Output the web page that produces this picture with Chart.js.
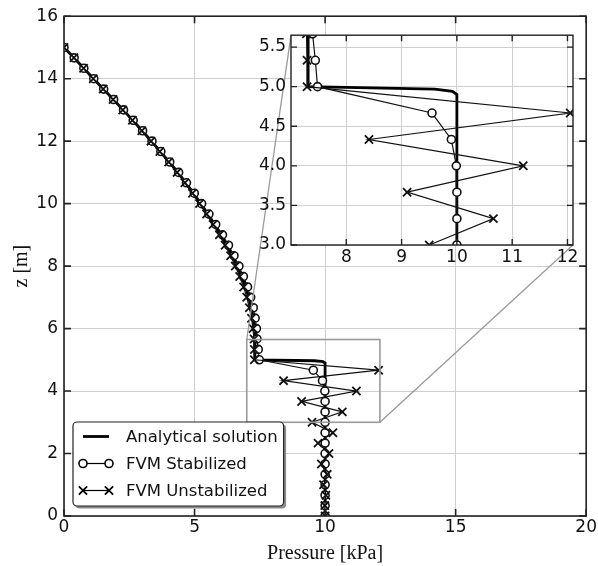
<!DOCTYPE html>
<html>
<head>
<meta charset="utf-8">
<script src="https://cdn.jsdelivr.net/npm/chart.js@4"></script>
<style>
  body { margin: 0; background: #fff; }
  #wrap { position: relative; width: 598px; height: 566px; }
  #main { position: absolute; left: 0; top: 0; }
  #inset { position: absolute; left: 250px; top: 20px; }
</style>
</head>
<body>
<div id="wrap">
  <canvas id="main" width="598" height="566"></canvas>
  <canvas id="inset" width="340" height="250"></canvas>
</div>
<script>
// nodes of the FVM grid (z in m)
const zNodes = [15, 14.667, 14.333, 14, 13.667, 13.333, 13, 12.667, 12.333, 12,
  11.667, 11.333, 11, 10.667, 10.333, 10, 9.667, 9.333, 9, 8.667,
  8.333, 8, 7.667, 7.333, 7, 6.667, 6.333, 6, 5.667, 5.333,
  5, 4.667, 4.333, 4, 3.667, 3.333, 3, 2.667, 2.333, 2,
  1.667, 1.333, 1, 0.667, 0.333, 0];

const pStabilized = [0, 0.39, 0.76, 1.14, 1.52, 1.90, 2.28, 2.65, 3.01, 3.37,
  3.71, 4.05, 4.39, 4.69, 4.99, 5.27, 5.55, 5.81, 6.07, 6.30,
  6.51, 6.70, 6.87, 7.03, 7.15, 7.25, 7.32, 7.37, 7.39, 7.44,
  7.48, 9.55, 9.90, 9.99, 10.0, 10.0, 10.0, 10.0, 10.0, 10.0,
  10.0, 10.0, 10.0, 10.0, 10.0, 10.0];

const pUnstabilized = [0, 0.38, 0.75, 1.12, 1.50, 1.88, 2.25, 2.62, 2.98, 3.33,
  3.67, 4.01, 4.33, 4.63, 4.92, 5.19, 5.46, 5.71, 5.95, 6.17,
  6.38, 6.56, 6.73, 6.88, 7.00, 7.10, 7.18, 7.24, 7.28, 7.29,
  7.29, 12.05, 8.41, 11.2, 9.10, 10.66, 9.50, 10.30, 9.73, 10.15,
  9.86, 10.08, 9.94, 10.03, 9.99, 10.0];

const zAnalytical = [15, 14.667, 14.333, 14, 13.667, 13.333, 13, 12.667, 12.333, 12,
  11.667, 11.333, 11, 10.667, 10.333, 10, 9.667, 9.333, 9, 8.667,
  8.333, 8, 7.667, 7.333, 7, 6.667, 6.333, 6, 5.667, 5.333,
  5, 4.97, 4.94, 4.9, 0];
const pAnalytical = [0, 0.385, 0.755, 1.13, 1.51, 1.89, 2.265, 2.635, 2.995, 3.35,
  3.69, 4.03, 4.36, 4.66, 4.955, 5.23, 5.50, 5.76, 6.01, 6.235,
  6.445, 6.63, 6.80, 6.955, 7.075, 7.175, 7.25, 7.29, 7.31, 7.31,
  7.31, 9.60, 9.92, 10.0, 10.0];

const seriesNames = ['Analytical solution', 'FVM Stabilized', 'FVM Unstabilized'];

const xTicks = [0, 5, 10, 15, 20];
const yTicks = [0, 2, 4, 6, 8, 10, 12, 14, 16];
const insetXTicks = [8, 9, 10, 11, 12];
const insetYTicks = [3.0, 3.5, 4.0, 4.5, 5.0, 5.5];
const insetXRange = [7.0, 12.1];
const insetYRange = [3.0, 5.65];

Chart.defaults.font.family = 'DejaVu Sans';
Chart.defaults.color = '#111';

function pts(ps, zs) {
    return ps.map((p, i) => ({ x: p, y: zs[i] }));
}

function makeDatasets() {
    return [
        { label: seriesNames[0], data: pts(pAnalytical, zAnalytical), showLine: true,
          borderColor: '#000', borderWidth: 2.8, pointRadius: 0, order: 3 },
        { label: seriesNames[1], data: pts(pStabilized, zNodes), showLine: true,
          borderColor: '#111', borderWidth: 1.2, pointStyle: 'circle', pointRadius: 4,
          pointBorderWidth: 1.6, pointBackgroundColor: '#fff', pointBorderColor: '#111', order: 2 },
        { label: seriesNames[2], data: pts(pUnstabilized, zNodes), showLine: true,
          borderColor: '#111', borderWidth: 1.2, pointStyle: 'crossRot', pointRadius: 5.8,
          pointBorderWidth: 1.8, pointBorderColor: '#111', order: 1 }
    ];
}

// white plot background (used by the inset to hide the main grid)
const areaBg = {
    id: 'areaBg',
    beforeDraw(chart) {
        const a = chart.chartArea;
        chart.ctx.save();
        chart.ctx.fillStyle = '#fff';
        chart.ctx.fillRect(a.left, a.top, a.right - a.left, a.bottom - a.top);
        chart.ctx.restore();
    }
};

// box round the axes and inward ticks on all sides
const frame = {
    id: 'frame',
    afterDraw(chart, args, opts) {
        const { ctx, chartArea: a, scales: { x, y } } = chart;
        ctx.save();
        ctx.strokeStyle = opts.color;
        ctx.lineWidth = opts.width;
        ctx.beginPath();
        x.ticks.forEach(t => {
            const px = x.getPixelForValue(t.value);
            ctx.moveTo(px, a.bottom); ctx.lineTo(px, a.bottom - opts.tick);
            ctx.moveTo(px, a.top); ctx.lineTo(px, a.top + opts.tick);
        });
        y.ticks.forEach(t => {
            const py = y.getPixelForValue(t.value);
            ctx.moveTo(a.left, py); ctx.lineTo(a.left + opts.tick, py);
            ctx.moveTo(a.right, py); ctx.lineTo(a.right - opts.tick, py);
        });
        ctx.stroke();
        ctx.strokeRect(a.left, a.top, a.right - a.left, a.bottom - a.top);
        ctx.restore();
    }
};

function roundedPath(ctx, x, y, w, h, r) {
    ctx.beginPath();
    ctx.moveTo(x + r, y);
    ctx.lineTo(x + w - r, y);
    ctx.arcTo(x + w, y, x + w, y + r, r);
    ctx.lineTo(x + w, y + h - r);
    ctx.arcTo(x + w, y + h, x + w - r, y + h, r);
    ctx.lineTo(x + r, y + h);
    ctx.arcTo(x, y + h, x, y + h - r, r);
    ctx.lineTo(x, y + r);
    ctx.arcTo(x, y, x + r, y, r);
    ctx.closePath();
}

function marker(ctx, style, r, x, y) {
    if (style === 'circle') {
        ctx.beginPath();
        ctx.arc(x, y, r, 0, Math.PI * 2);
        ctx.fill();
        ctx.stroke();
    } else if (style === 'crossRot') {
        const d = r * 0.7071;
        ctx.beginPath();
        ctx.moveTo(x - d, y - d); ctx.lineTo(x + d, y + d);
        ctx.moveTo(x - d, y + d); ctx.lineTo(x + d, y - d);
        ctx.stroke();
    }
}

// zoom box, connector lines and the legend box in the lower left
const mainExtras = {
    id: 'mainExtras',
    afterDraw(chart) {
        const { ctx, chartArea: a, scales: { x, y } } = chart;
        ctx.save();

        // zoom rectangle
        const rx0 = x.getPixelForValue(insetXRange[0]);
        const rx1 = x.getPixelForValue(insetXRange[1]);
        const ry0 = y.getPixelForValue(insetYRange[1]);
        const ry1 = y.getPixelForValue(insetYRange[0]);
        ctx.strokeStyle = '#9a9a9a';
        ctx.lineWidth = 1.6;
        ctx.strokeRect(rx0, ry0, rx1 - rx0, ry1 - ry0);

        // connectors to the inset axes
        const ia = insetChart.chartArea;
        const ox = insetCanvas.offsetLeft, oy = insetCanvas.offsetTop;
        ctx.lineWidth = 1.3;
        ctx.beginPath();
        ctx.moveTo(rx0, ry0); ctx.lineTo(ia.left + ox, ia.top + oy);
        ctx.moveTo(rx1, ry1); ctx.lineTo(ia.right + ox, ia.bottom + oy);
        ctx.stroke();

        // legend
        const dsets = chart.data.datasets;
        ctx.font = '16.5px "DejaVu Sans"';
        let tw = 0;
        dsets.forEach(d => { tw = Math.max(tw, ctx.measureText(d.label).width); });
        const bw = 53 + tw + 6, bh = 84;
        const bx = a.left + 9, by = a.bottom - 10 - bh;
        ctx.fillStyle = '#8c8c8c';
        roundedPath(ctx, bx + 2.5, by + 2.5, bw, bh, 4);
        ctx.fill();
        ctx.fillStyle = '#fff';
        ctx.strokeStyle = '#222';
        ctx.lineWidth = 1.2;
        roundedPath(ctx, bx, by, bw, bh, 4);
        ctx.fill();
        ctx.stroke();

        dsets.forEach((d, i) => {
            const cy = by + 14.5 + i * 27;
            const sx0 = bx + 10, sx1 = bx + 36;
            ctx.strokeStyle = '#000';
            ctx.lineWidth = d.borderWidth;
            ctx.beginPath();
            ctx.moveTo(sx0, cy); ctx.lineTo(sx1, cy);
            ctx.stroke();
            if (d.pointRadius > 0) {
                ctx.lineWidth = d.pointBorderWidth;
                ctx.fillStyle = '#fff';
                marker(ctx, d.pointStyle, d.pointRadius, sx0, cy);
                marker(ctx, d.pointStyle, d.pointRadius, sx1, cy);
            }
            ctx.fillStyle = '#111';
            ctx.textBaseline = 'middle';
            ctx.textAlign = 'left';
            ctx.fillText(d.label, bx + 53, cy + 1);
        });
        ctx.restore();
    }
};

const insetCanvas = document.getElementById('inset');

const insetChart = new Chart(insetCanvas, {
    type: 'scatter',
    data: { datasets: makeDatasets() },
    options: {
        responsive: false,
        animation: false,
        events: [],
        layout: { padding: { top: 13, right: 17, left: 0, bottom: 0 } },
        plugins: {
            legend: { display: false },
            tooltip: { enabled: false },
            frame: { color: '#222', width: 1.4, tick: 6 }
        },
        scales: {
            x: {
                type: 'linear', min: insetXRange[0], max: insetXRange[1],
                afterBuildTicks: s => { s.ticks = insetXTicks.map(v => ({ value: v })); },
                afterFit: s => { s.height = 25; },
                ticks: { font: { size: 17 }, padding: 2, maxRotation: 0, callback: v => v },
                grid: { color: '#cfcfcf', drawTicks: false },
                border: { display: false }
            },
            y: {
                type: 'linear', min: insetYRange[0], max: insetYRange[1],
                afterBuildTicks: s => { s.ticks = insetYTicks.map(v => ({ value: v })); },
                afterFit: s => { s.width = 41; },
                ticks: { font: { size: 17 }, padding: 5, callback: v => v.toFixed(1) },
                grid: { color: '#cfcfcf', drawTicks: false },
                border: { display: false }
            }
        }
    },
    plugins: [areaBg, frame]
});

const mainChart = new Chart(document.getElementById('main'), {
    type: 'scatter',
    data: { datasets: makeDatasets() },
    options: {
        responsive: false,
        animation: false,
        events: [],
        layout: { padding: { top: 16, right: 9, left: 0, bottom: 0 } },
        plugins: {
            legend: { display: false },
            tooltip: { enabled: false },
            frame: { color: '#222', width: 1.6, tick: 7 }
        },
        scales: {
            x: {
                type: 'linear', min: 0, max: 20,
                afterBuildTicks: s => { s.ticks = xTicks.map(v => ({ value: v })); },
                afterFit: s => { s.height = 50; },
                ticks: { font: { size: 17 }, padding: 1, maxRotation: 0, callback: v => v },
                grid: { color: '#cfcfcf', drawTicks: false },
                border: { display: false },
                title: {
                    display: true, text: 'Pressure [kPa]', color: '#111',
                    font: { family: '"Liberation Serif"', size: 20 },
                    padding: { top: 3, bottom: 0 }
                }
            },
            y: {
                type: 'linear', min: 0, max: 16,
                afterBuildTicks: s => { s.ticks = yTicks.map(v => ({ value: v })); },
                afterFit: s => { s.width = 64; },
                ticks: { font: { size: 17 }, padding: 6, callback: v => v },
                grid: { color: '#cfcfcf', drawTicks: false },
                border: { display: false },
                title: {
                    display: true, text: 'z [m]', color: '#111',
                    font: { family: '"Liberation Serif"', size: 20 },
                    padding: { top: 10, bottom: 0 }
                }
            }
        }
    },
    plugins: [frame, mainExtras]
});
</script>
</body>
</html>
